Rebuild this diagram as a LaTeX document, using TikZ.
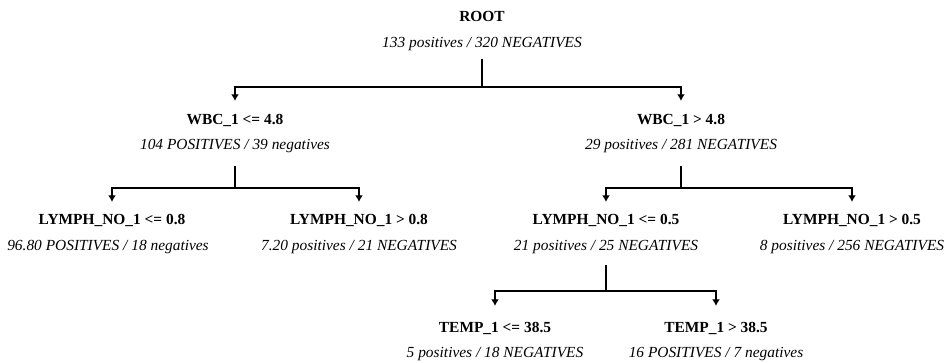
\documentclass[tikz,border=0pt]{standalone}
\usepackage{fontspec}
\setmainfont{Liberation Serif}
\usetikzlibrary{arrows.meta}

\begin{document}
\begin{tikzpicture}[x=1pt,y=-1pt,
  cond/.style={anchor=base,inner sep=0pt,text height=10pt,text depth=0pt,
               font=\fontsize{15.4}{18}\selectfont\bfseries},
  counts/.style={anchor=base,inner sep=0pt,text depth=0pt,
               font=\fontsize{15.4}{18}\selectfont\itshape},
  branch/.style={line width=1.6pt,-{Latex[length=6.5pt,width=8pt]}}
]
\useasboundingbox (0,0) rectangle (950,363);

% root
\node[cond]   (root)  at (482,22)  {ROOT};
\node[counts] (rootc) at (482,48)  {133 positives / 320 NEGATIVES};

% first split on WBC_1
\node[cond]   (wl)  at (235,125) {WBC\_1 <= 4.8};
\node[counts] (wlc) at (235,150) {104 POSITIVES / 39 negatives};
\node[cond]   (wr)  at (681,125) {WBC\_1 > 4.8};
\node[counts] (wrc) at (681,150) {29 positives / 281 NEGATIVES};

% splits on LYMPH_NO_1
\node[cond]   (ll)  at (112,225) {LYMPH\_NO\_1 <= 0.8};
\node[counts] (llc) at (108,251) {96.80 POSITIVES / 18 negatives};
\node[cond]   (lr)  at (359,225) {LYMPH\_NO\_1 > 0.8};
\node[counts] (lrc) at (359,251) {7.20 positives / 21 NEGATIVES};
\node[cond]   (rl)  at (606,225) {LYMPH\_NO\_1 <= 0.5};
\node[counts] (rlc) at (606,251) {21 positives / 25 NEGATIVES};
\node[cond]   (rr)  at (852,225) {LYMPH\_NO\_1 > 0.5};
\node[counts] (rrc) at (852,251) {8 positives / 256 NEGATIVES};

% split on TEMP_1
\node[cond]   (tl)  at (495,332) {TEMP\_1 <= 38.5};
\node[counts] (tlc) at (495,357) {5 positives / 18 NEGATIVES};
\node[cond]   (tr)  at (716,332) {TEMP\_1 > 38.5};
\node[counts] (trc) at (716,357) {16 POSITIVES / 7 negatives};

% junction points of the elbow connectors
\coordinate (j0) at (482,87);
\coordinate (j1) at (235,188);
\coordinate (j2) at (681,188);
\coordinate (j3) at (606,291);

\draw[branch] ([yshift=-11pt]rootc.south) -- (j0) -| ([yshift=14pt]wl.north);
\draw[branch] (j0) -| ([yshift=14pt]wr.north);

\draw[branch] ([yshift=-16pt]wlc.south) -- (j1) -| ([yshift=13pt]ll.north);
\draw[branch] (j1) -| ([yshift=13pt]lr.north);

\draw[branch] ([yshift=-16pt]wrc.south) -- (j2) -| ([yshift=13pt]rl.north);
\draw[branch] (j2) -| ([yshift=13pt]rr.north);

\draw[branch] ([yshift=-14pt]rlc.south) -- (j3) -| ([yshift=16pt]tl.north);
\draw[branch] (j3) -| ([yshift=16pt]tr.north);
\end{tikzpicture}
\end{document}
